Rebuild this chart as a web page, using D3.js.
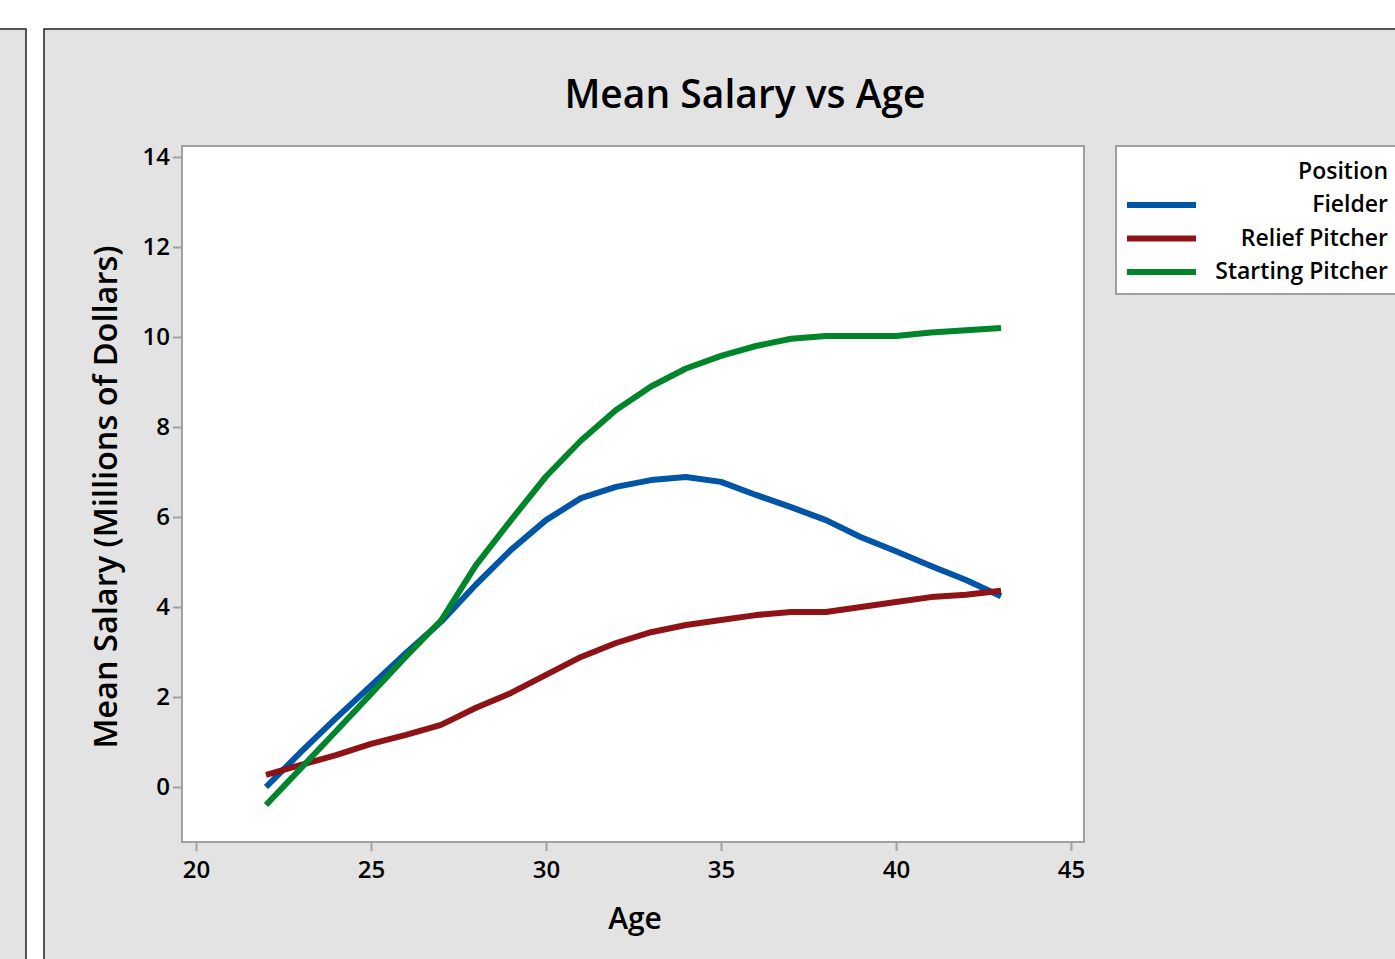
<!DOCTYPE html>
<html>
<head>
<meta charset="utf-8">
<script src="https://cdn.jsdelivr.net/npm/d3@7"></script>
<style>
  body { margin: 0; background: #fff; }
  text { font-family: "Open Sans", "Noto Sans", sans-serif; fill: #000; font-weight: 600; }
</style>
</head>
<body>
<div id="chart"></div>
<script>
// ages and mean salary (millions of dollars) per position
const ages = [22, 23, 24, 25, 26, 27, 28, 29, 30, 31, 32, 33, 34, 35, 36, 37, 38, 39, 40, 41, 42, 43];
const fielder = [0.0, 0.78, 1.53, 2.25, 2.98, 3.67, 4.5, 5.27, 5.93, 6.42, 6.67, 6.82, 6.89, 6.78, 6.49, 6.22, 5.93, 5.55, 5.24, 4.91, 4.6, 4.24];
const relief = [0.27, 0.49, 0.71, 0.96, 1.16, 1.38, 1.76, 2.09, 2.49, 2.89, 3.2, 3.44, 3.6, 3.71, 3.82, 3.89, 3.89, 4.0, 4.11, 4.22, 4.27, 4.36];
const starting = [-0.4, 0.42, 1.24, 2.07, 2.9, 3.7, 4.93, 5.93, 6.9, 7.7, 8.38, 8.9, 9.3, 9.58, 9.8, 9.96, 10.02, 10.02, 10.02, 10.1, 10.15, 10.2];
const xTicks = [20, 25, 30, 35, 40, 45];
const yTicks = [0, 2, 4, 6, 8, 10, 12, 14];

const series = [
    {name: "Fielder", values: fielder, color: "#0055a5"},
    {name: "Relief Pitcher", values: relief, color: "#8e1316"},
    {name: "Starting Pitcher", values: starting, color: "#00852a"}
];

const width = 1395, height = 959;
const svg = d3.select("#chart").append("svg")
    .attr("width", width)
    .attr("height", height);

// panels
svg.append("rect")
    .attr("x", -5).attr("y", 29).attr("width", 31).attr("height", 940)
    .attr("fill", "#e3e3e3").attr("stroke", "#222").attr("stroke-width", 1.5);
svg.append("rect")
    .attr("x", 44).attr("y", 29).attr("width", 1360).attr("height", 940)
    .attr("fill", "#e3e3e3").attr("stroke", "#222").attr("stroke-width", 1.5);

const plot = {left: 182, right: 1084, top: 146, bottom: 842};

const x = d3.scaleLinear().domain([20, 45]).range([196, 1071]);
const y = d3.scaleLinear().domain([0, 14]).range([787, 157]);

svg.append("rect")
    .attr("x", plot.left).attr("y", plot.top)
    .attr("width", plot.right - plot.left).attr("height", plot.bottom - plot.top)
    .attr("fill", "#fff").attr("stroke", "#a0a0a0").attr("stroke-width", 2);

// axes
const xAxis = svg.append("g")
    .attr("transform", `translate(0,${plot.bottom + 1})`)
    .call(d3.axisBottom(x).tickValues(xTicks).tickSize(8).tickPadding(10));
const yAxis = svg.append("g")
    .attr("transform", `translate(${plot.left - 1},0)`)
    .call(d3.axisLeft(y).tickValues(yTicks).tickSize(8).tickPadding(3));

[xAxis, yAxis].forEach(a => {
    a.select(".domain").remove();
    a.selectAll(".tick line").attr("stroke", "#a0a0a0").attr("stroke-width", 2);
    a.selectAll(".tick text")
        .attr("font-size", "24px")
        .attr("font-family", "'Open Sans', sans-serif")
        .attr("font-weight", 600)
        .attr("fill", "#000");
});

// lines
const line = d3.line()
    .x((d, i) => x(ages[i]))
    .y(d => y(d));

series.forEach(s => {
    svg.append("path")
        .datum(s.values)
        .attr("d", line)
        .attr("fill", "none")
        .attr("stroke", s.color)
        .attr("stroke-width", 6)
        .attr("stroke-linejoin", "round");
});

// titles
svg.append("text")
    .attr("x", 745).attr("y", 108)
    .attr("text-anchor", "middle")
    .attr("font-size", "39px")
    .text("Mean Salary vs Age");

svg.append("text")
    .attr("x", 635).attr("y", 929)
    .attr("text-anchor", "middle")
    .attr("font-size", "30px")
    .text("Age");

svg.append("text")
    .attr("transform", "translate(117,497) rotate(-90)")
    .attr("text-anchor", "middle")
    .attr("font-size", "32.5px")
    .text("Mean Salary (Millions of Dollars)");

// legend
const legend = svg.append("g");
legend.append("rect")
    .attr("x", 1116).attr("y", 146).attr("width", 300).attr("height", 148)
    .attr("fill", "#fff").attr("stroke", "#a0a0a0").attr("stroke-width", 2);
legend.append("text")
    .attr("x", 1388).attr("y", 179)
    .attr("text-anchor", "end")
    .attr("font-size", "23px")
    .text("Position");
series.forEach((s, i) => {
    const ly = 205 + i * 33.5;
    legend.append("line")
        .attr("x1", 1127).attr("x2", 1196)
        .attr("y1", ly).attr("y2", ly)
        .attr("stroke", s.color).attr("stroke-width", 6);
    legend.append("text")
        .attr("x", 1388).attr("y", ly + 7)
        .attr("text-anchor", "end")
        .attr("font-size", "23px")
        .text(s.name);
});
</script>
</body>
</html>
